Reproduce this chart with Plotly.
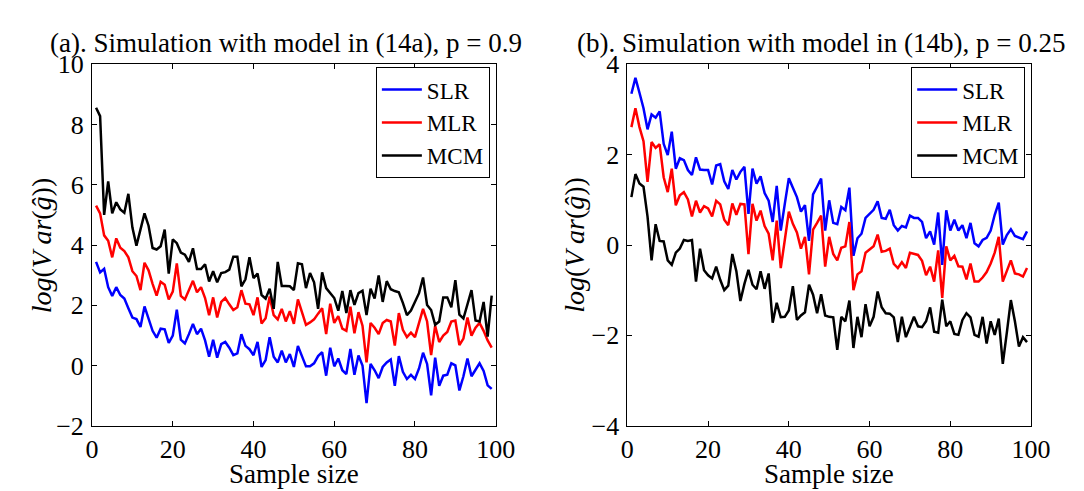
import plotly.graph_objects as go

sample_size = list(range(1, 100))

a_slr = [3.44, 3.09, 3.21, 2.6, 2.31, 2.6, 2.34, 2.22, 1.9, 1.59,
         1.54, 1.28, 1.96, 1.53, 1.15, 0.92, 1.22, 1.2, 0.75, 0.99,
         1.85, 0.86, 0.73, 1.04, 1.38, 1.04, 1.22, 0.83, 0.29, 0.85,
         0.26, 0.71, 0.78, 0.59, 0.34, 0.4, 1.04, 0.65, 0.54, 0.34,
         0.78, -0.05, 0.18, 0.94, 0.29, 0.1, 0.49, 0.1, 0.38, -0.05,
         0.65, 0.31, -0.03, -0.03, 0.07, 0.31, 0.44, -0.34, 0.59, -0.03,
         0.23, -0.16, -0.29, 0.55, -0.31, 0.33, 0.0, -1.25, 0.05, -0.16,
         -0.42, -0.05, 0.1, 0.2, -0.68, 0.31, -0.21, -0.45, -0.31, -0.45,
         -0.1, 0.42, 0.05, -0.99, 0.26, -0.68, -0.34, -0.31, 0.07, 0.0,
         -0.83, -0.36, 0.23, -0.36, -0.16, 0.07, -0.18, -0.66, -0.78]

a_mlr = [5.31, 5.05, 4.32, 4.14, 3.59, 4.22, 3.91, 3.8, 3.59, 3.13,
         2.97, 2.5, 3.41, 3.16, 2.71, 2.32, 2.78, 2.68, 2.19, 2.45,
         3.39, 2.31, 2.19, 2.53, 2.81, 2.43, 2.6, 2.24, 1.67, 2.26,
         1.59, 2.11, 2.24, 2.03, 1.84, 1.93, 2.5, 2.05, 2.03, 1.67,
         2.26, 1.39, 1.57, 2.29, 1.67, 1.53, 1.88, 1.46, 1.8, 1.38,
         2.19, 1.77, 1.35, 1.43, 1.53, 1.72, 1.9, 1.04, 2.05, 1.41,
         1.64, 1.22, 1.15, 1.95, 1.07, 1.77, 1.32, 0.1, 1.41, 1.25,
         1.04, 1.41, 1.51, 1.46, 0.66, 1.74, 1.18, 0.94, 1.09, 0.94,
         1.41, 1.88, 1.46, 0.34, 1.32, 0.78, 0.99, 1.11, 1.46, 1.49,
         0.68, 0.89, 1.59, 0.99, 1.25, 1.41, 1.15, 0.83, 0.59]

a_mcm = [8.56, 8.28, 5.0, 6.11, 5.05, 5.42, 5.18, 5.07, 5.70, 4.58,
         3.98, 4.53, 5.05, 4.64, 3.9, 3.85, 3.96, 4.51, 3.05, 4.19,
         4.06, 3.75, 3.68, 3.44, 3.89, 3.2, 3.2, 3.36, 2.79, 3.13,
         2.76, 3.07, 3.1, 3.18, 3.61, 3.61, 2.63, 2.86, 3.59, 2.9,
         3.05, 2.34, 2.22, 2.55, 1.88, 3.44, 2.64, 2.64, 2.63, 2.5,
         3.39, 3.36, 2.57, 3.07, 2.76, 1.88, 3.09, 2.57, 2.4, 2.24,
         1.82, 2.47, 1.74, 2.5, 2.01, 2.4, 2.48, 1.67, 2.55, 2.22,
         2.99, 2.11, 2.8, 2.53, 2.47, 2.43, 2.08, 1.67, 1.82, 2.11,
         2.4, 2.92, 2.01, 1.84, 1.35, 1.46, 2.26, 2.26, 1.93, 2.83,
         1.69, 1.56, 2.03, 2.5, 1.49, 1.46, 2.11, 0.96, 2.32]

b_slr = [3.35, 3.7, 3.37, 3.03, 2.56, 2.89, 2.82, 2.96, 2.24, 1.99,
         2.51, 1.69, 1.92, 1.88, 1.66, 1.55, 1.94, 1.67, 1.66, 1.66,
         1.34, 1.76, 1.79, 1.41, 1.24, 1.66, 1.45, 1.62, 1.73, 0.69,
         1.69, 1.36, 1.52, 1.15, 0.98, 0.51, 1.31, 0.32, 0.91, 1.48,
         1.27, 1.06, 0.74, 0.88, 0.09, 1.12, 1.29, 1.47, 0.32, 0.99,
         0.49, 0.46, 0.84, 0.77, 1.27, -0.24, 0.15, 0.25, 0.6, 0.7,
         0.78, 0.97, 0.6, 0.58, 0.78, 0.44, 0.32, 0.42, 0.39, 0.65,
         0.6, 0.6, 0.51, 0.15, 0.3, 0.01, 0.72, -0.44, 0.77, 0.32,
         0.56, 0.32, 0.44, 0.15, 0.49, 0.04, -0.03, 0.11, 0.16, 0.32,
         0.67, 0.94, 0.01, 0.22, 0.35, 0.2, 0.16, 0.13, 0.3]

b_mlr = [2.61, 3.03, 2.61, 2.3, 1.4, 2.28, 2.15, 2.23, 1.5, 1.17,
         1.69, 0.88, 1.1, 1.17, 1.01, 0.63, 0.98, 0.72, 0.86, 0.81,
         0.63, 0.98, 0.9, 0.56, 0.44, 0.92, 0.67, 0.91, 0.9, -0.2,
         0.91, 0.54, 0.76, 0.42, 0.25, -0.34, 0.54, -0.51, 0.11, 0.74,
         0.47, 0.28, -0.08, 0.18, -0.65, 0.34, 0.49, 0.65, -0.48, 0.18,
         -0.2, -0.34, -0.06, -0.03, 0.51, -1.0, -0.65, -0.58, -0.17, -0.1,
         -0.03, 0.23, -0.15, -0.13, -0.08, -0.42, -0.51, -0.38, -0.51, -0.17,
         -0.2, -0.22, -0.35, -0.67, -0.48, -0.81, -0.12, -1.17, -0.03, -0.34,
         -0.24, -0.47, -0.48, -0.76, -0.41, -0.81, -0.81, -0.72, -0.6, -0.41,
         -0.17, 0.18, -0.81, -0.55, -0.34, -0.63, -0.65, -0.7, -0.51]

b_mcm = [1.06, 1.57, 1.36, 1.29, 0.63, -0.34, 0.46, 0.09, 0.08, -0.34,
         -0.44, -0.17, -0.08, 0.11, 0.09, 0.11, -0.81, -0.08, -0.56, -0.67,
         -0.74, -0.48, -0.77, -1.0, -0.9, -0.2, -0.58, -1.24, -0.86, -0.55,
         -0.88, -0.98, -0.58, -0.97, -0.63, -1.72, -1.28, -1.6, -1.59, -1.45,
         -0.91, -1.66, -1.56, -1.49, -0.88, -1.1, -1.51, -1.09, -1.56, -1.59,
         -1.6, -2.32, -1.59, -1.69, -1.23, -2.28, -1.59, -2.04, -1.31, -1.8,
         -1.59, -1.03, -1.38, -1.51, -1.52, -1.6, -2.15, -1.59, -2.04, -1.8,
         -1.59, -1.8, -1.82, -1.69, -1.38, -1.92, -1.94, -1.21, -1.8, -1.69,
         -1.97, -1.99, -1.66, -1.51, -1.6, -1.99, -2.03, -1.59, -2.18, -1.69,
         -1.99, -1.63, -2.63, -1.94, -1.22, -1.69, -2.25, -2.04, -2.15]

series_names = ["SLR", "MLR", "MCM"]
series_colors = ["#0000FF", "#FF0000", "#000000"]
x_ticks = [0, 20, 40, 60, 80, 100]
titles = ["(a). Simulation with model in (14a), p = 0.9",
          "(b). Simulation with model in (14b), p = 0.25"]
x_label = "Sample size"
y_label = "<i>log</i>(<i>V ar</i>(<i>\u011d</i>))"

FONT = "Liberation Serif, Times New Roman, serif"
FS = 27
W, H = 1084, 491

fig = go.Figure()
panels = [([a_slr, a_mlr, a_mcm], "x", "y", "legend"),
          ([b_slr, b_mlr, b_mcm], "x2", "y2", "legend2")]
for data, xa, ya, lg in panels:
    for vals, name, col in zip(data, series_names, series_colors):
        fig.add_trace(go.Scatter(x=sample_size, y=vals, mode="lines", name=name,
                                 line=dict(color=col, width=2.5),
                                 xaxis=xa, yaxis=ya, legend=lg))

# panel pixel boxes
left_px = (79, 493)
right_px = (628, 1042)
top_px, bot_px = 45, 429
ydom = [(H - bot_px) / H, (H - top_px) / H]

axis_common = dict(showline=True, linecolor="black", linewidth=1, mirror="ticks",
                   ticks="inside", ticklen=5, tickcolor="black", showgrid=False,
                   zeroline=False, tickfont=dict(family=FONT, size=26, color="black"))

legend_common = dict(xanchor="right", yanchor="top", bgcolor="white",
                     bordercolor="black", borderwidth=1,
                     font=dict(family=FONT, size=23, color="black"),
                     tracegroupgap=0, itemwidth=40)

fig.update_layout(
    width=W, height=H, margin=dict(l=0, r=0, t=0, b=0),
    paper_bgcolor="white", plot_bgcolor="white",
    font=dict(family=FONT, size=FS, color="black"),
    showlegend=True,
    xaxis=dict(domain=[left_px[0] / W, left_px[1] / W], range=[0, 100],
               tickvals=x_ticks, anchor="y", **axis_common),
    yaxis=dict(domain=ydom, range=[-2, 10], tick0=0, dtick=2, anchor="x",
               ticklabelstandoff=2, **axis_common),
    xaxis2=dict(domain=[right_px[0] / W, right_px[1] / W], range=[0, 100],
                tickvals=x_ticks, anchor="y2", **axis_common),
    yaxis2=dict(domain=ydom, range=[-4, 4], tick0=0, dtick=2, anchor="x2",
                ticklabelstandoff=2, **axis_common),
    legend=dict(x=487 / W, y=(H - 48) / H, **legend_common),
    legend2=dict(x=1036 / W, y=(H - 48) / H, **legend_common),
)

annotations = []
for (l, r), title, ylx in [(left_px, titles[0], 27), (right_px, titles[1], 573)]:
    cx = (l + r) / 2
    annotations.append(dict(text=title, x=(cx - 8) / W, y=(H - 22) / H, xref="paper", yref="paper",
                            xanchor="center", yanchor="middle", showarrow=False,
                            font=dict(family=FONT, size=FS, color="black")))
    annotations.append(dict(text=x_label, x=cx / W, y=(H - 480) / H, xref="paper", yref="paper",
                            xanchor="center", yanchor="middle", showarrow=False,
                            font=dict(family=FONT, size=FS, color="black")))
    annotations.append(dict(text=y_label, x=ylx / W, y=(H - 237) / H, xref="paper", yref="paper",
                            xanchor="center", yanchor="middle", showarrow=False, textangle=-90,
                            font=dict(family=FONT, size=28, color="black")))
fig.update_layout(annotations=annotations)

fig.write_html("out.html")
